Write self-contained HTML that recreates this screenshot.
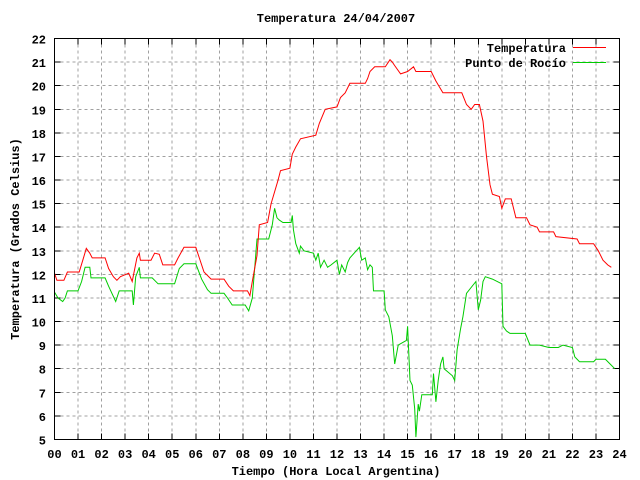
<!DOCTYPE html>
<html><head><meta charset="utf-8"><style>
html,body{margin:0;padding:0;background:#fff;}
svg{display:block;font-family:"Liberation Mono",monospace;font-weight:bold;font-size:12px;}
</style></head><body>
<svg id="chart" width="640" height="480" viewBox="0 0 640 480" xmlns="http://www.w3.org/2000/svg">
<rect width="640" height="480" fill="#fff"/>
<g id="grid" shape-rendering="crispEdges"></g>
<g id="ticks" shape-rendering="crispEdges"></g>
<g id="series"></g>
<rect x="54.5" y="38.5" width="565" height="401" fill="none" stroke="#000" stroke-width="1" shape-rendering="crispEdges"/>
<text x="336" y="22" text-anchor="middle">Temperatura 24/04/2007</text>
<text x="336" y="475" text-anchor="middle">Tiempo (Hora Local Argentina)</text>
<text transform="translate(19,239) rotate(-90)" text-anchor="middle">Temperatura (Grados Celsius)</text>
<g>
<text x="566" y="52" text-anchor="end">Temperatura</text>
<line x1="573" y1="47.5" x2="606" y2="47.5" stroke="#f00" stroke-width="1"/>
<text x="566" y="67" text-anchor="end">Punto de Rocío</text>
<line x1="573" y1="62.5" x2="606" y2="62.5" stroke="#0c0" stroke-width="1"/>
</g>
</svg>
<script>
const xTickLabels=["00","01","02","03","04","05","06","07","08","09","10","11","12","13","14","15","16","17","18","19","20","21","22","23","24"];
const yTickLabels=[5,6,7,8,9,10,11,12,13,14,15,16,17,18,19,20,21,22];
const tempHours=[0,0.1,0.4,0.55,1.05,1.2,1.35,1.5,1.6,2.15,2.3,2.5,2.65,2.8,3.15,3.3,3.5,3.6,3.65,4.1,4.25,4.45,4.6,5.1,5.25,5.5,6.0,6.15,6.35,6.65,7.2,7.4,7.6,8.2,8.3,8.4,8.6,8.7,9.05,9.2,9.5,9.6,10.0,10.1,10.25,10.45,11.1,11.25,11.5,12.0,12.15,12.35,12.55,13.2,13.3,13.4,13.6,14.05,14.25,14.35,14.45,14.7,15.0,15.25,15.35,16.0,16.2,16.5,16.8,17.3,17.5,17.7,17.85,18.05,18.2,18.35,18.5,18.6,18.9,19.0,19.15,19.4,19.6,20.05,20.2,20.5,20.6,21.2,21.3,22.2,22.3,22.9,23.1,23.3,23.5,23.65];
const tempValues=[12.05,11.75,11.75,12.1,12.1,12.6,13.1,12.9,12.7,12.7,12.25,11.9,11.75,11.9,12.05,11.7,12.7,12.9,12.6,12.6,12.9,12.85,12.4,12.4,12.7,13.15,13.15,12.7,12.1,11.8,11.8,11.5,11.3,11.3,11.1,11.7,12.8,14.1,14.2,15.0,16.0,16.4,16.5,17.1,17.4,17.75,17.9,18.4,19.0,19.1,19.5,19.7,20.1,20.1,20.3,20.6,20.8,20.8,21.1,21.0,20.85,20.5,20.6,20.8,20.6,20.6,20.2,19.7,19.7,19.7,19.2,19.0,19.2,19.2,18.5,17.0,15.8,15.4,15.3,14.8,15.2,15.2,14.4,14.4,14.1,14.0,13.8,13.8,13.6,13.5,13.3,13.3,13.0,12.6,12.4,12.3];
const dewHours=[0,0.15,0.35,0.45,0.55,1.0,1.15,1.3,1.5,1.55,2.15,2.3,2.6,2.75,3.3,3.35,3.45,3.6,3.65,4.15,4.4,5.1,5.3,5.5,6.0,6.25,6.5,6.65,7.2,7.35,7.55,8.1,8.25,8.4,8.6,9.1,9.25,9.35,9.45,9.55,9.7,10.05,10.1,10.15,10.25,10.4,10.45,10.6,11.0,11.1,11.2,11.3,11.45,11.6,11.75,12.0,12.1,12.2,12.35,12.45,12.55,12.95,13.05,13.2,13.3,13.4,13.5,13.55,14.0,14.05,14.2,14.35,14.45,14.6,14.95,15.0,15.1,15.2,15.3,15.35,15.45,15.5,15.6,16.05,16.1,16.2,16.3,16.4,16.5,16.55,16.9,17.0,17.1,17.25,17.35,17.5,17.9,18.0,18.1,18.2,18.3,18.6,19.0,19.05,19.2,19.35,19.6,20.0,20.2,20.6,21.0,21.4,21.6,22.0,22.1,22.3,22.9,23.0,23.4,23.6,23.8];
const dewValues=[11.25,11.0,10.85,11.0,11.3,11.3,11.7,12.3,12.3,11.85,11.85,11.5,10.85,11.3,11.3,10.7,11.9,12.3,11.85,11.85,11.6,11.6,12.25,12.45,12.45,11.8,11.35,11.2,11.2,11.0,10.7,10.7,10.45,11.0,13.5,13.5,14.1,14.8,14.4,14.3,14.2,14.2,14.5,13.9,13.3,12.9,13.2,13.0,12.9,12.6,12.9,12.3,12.6,12.3,12.4,12.6,12.0,12.4,12.1,12.5,12.7,13.15,12.6,12.7,12.2,12.4,12.3,11.3,11.3,10.5,10.2,9.4,8.2,9.0,9.2,9.8,7.5,7.3,6.3,5.1,6.5,6.2,6.9,6.9,7.8,6.6,7.5,8.2,8.5,8.0,7.7,7.5,8.8,9.7,10.2,11.2,11.7,10.5,10.9,11.7,11.9,11.8,11.6,9.8,9.6,9.5,9.5,9.5,9.0,9.0,8.9,8.9,9.0,8.9,8.5,8.3,8.3,8.4,8.4,8.2,8.0];

const NS="http://www.w3.org/2000/svg";
const X0=54.5,X1=619.5,Y0=439.5,Y1=38.5;
function xScale(h){return X0+(X1-X0)*h/24;}
function yScale(v){return Y0-(Y0-Y1)*(v-5)/17;}
const grid=document.getElementById('grid'),ticks=document.getElementById('ticks'),series=document.getElementById('series'),svg=document.getElementById('chart');
function mk(tag,attrs,parent){const e=document.createElementNS(NS,tag);for(const k in attrs)e.setAttribute(k,attrs[k]);parent.appendChild(e);return e;}

xTickLabels.forEach((lab,i)=>{
  const x=xScale(i);
  if(i>0&&i<24){
    const g=mk('line',{x1:x,y1:Y1,x2:x,y2:Y0,stroke:'#a0a0a0','stroke-dasharray':'3,3'},grid);
    
    
  }
  const t1=mk('line',{x1:x,y1:Y0,x2:x,y2:Y0-6,stroke:'#000'},ticks);
  
  
  const t2=mk('line',{x1:x,y1:Y1,x2:x,y2:Y1+6,stroke:'#000'},ticks);
  
  
  const tx=mk('text',{x:x,y:458,'text-anchor':'middle'},svg);
  tx.textContent=lab;
  
  
});
yTickLabels.forEach((v,i)=>{
  const y=yScale(v);
  if(v>5&&v<22){
    const g=mk('line',{x1:X0,y1:y,x2:X1,y2:y,stroke:'#a0a0a0','stroke-dasharray':'3,3'},grid);
    
    
  }
  const t1=mk('line',{x1:X0,y1:y,x2:X0+6,y2:y,stroke:'#000'},ticks);
  
  
  const t2=mk('line',{x1:X1,y1:y,x2:X1-6,y2:y,stroke:'#000'},ticks);
  
  
  const tx=mk('text',{x:46,y:y+5,'text-anchor':'end'},svg);
  tx.textContent=String(v);
  
  
});
function pts(hs,vs){return hs.map((h,i)=>xScale(h).toFixed(1)+','+yScale(vs[i]).toFixed(1)).join(' ');}
const dew=mk('polyline',{points:pts(dewHours,dewValues),fill:'none',stroke:'#0c0','stroke-width':1},series);


const temp=mk('polyline',{points:pts(tempHours,tempValues),fill:'none',stroke:'#f00','stroke-width':1},series);


</script>
</body></html>
